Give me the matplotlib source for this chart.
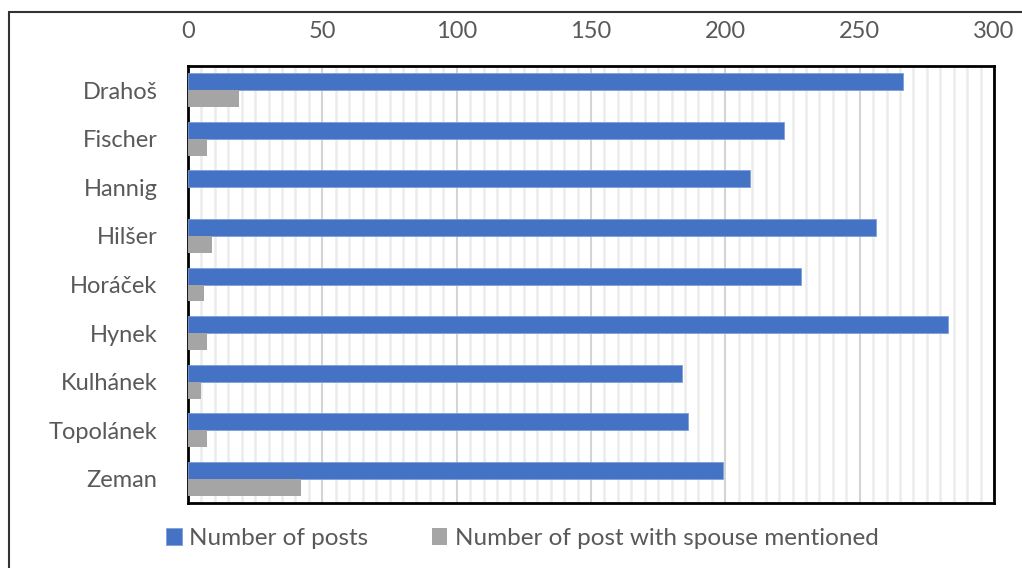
import matplotlib.pyplot as plt
import matplotlib
from matplotlib.patches import Rectangle
from matplotlib.ticker import MultipleLocator

matplotlib.rcParams['font.family'] = ['Lato', 'DejaVu Sans']

candidates = ["Drahoš", "Fischer", "Hannig", "Hilšer", "Horáček", "Hynek", "Kulhánek", "Topolánek", "Zeman"]
posts = [266, 222, 209, 256, 228, 283, 184, 186, 199]
spouse_posts = [19, 7, 0, 9, 6, 7, 5, 7, 42]
series_names = ["Number of posts", "Number of post with spouse mentioned"]
colors = ["#4472C4", "#A5A5A5"]

fig = plt.figure(figsize=(10.22, 5.68), dpi=100)
ax = fig.add_axes([188 / 1022, 1 - 503 / 568, (994 - 188) / 1022, (503 - 66) / 568])

h = 0.35
y = list(range(len(candidates)))
ax.barh([i - h / 2 for i in y], posts, height=h, color=colors[0], edgecolor="#7f9fd8", linewidth=0.6, label=series_names[0], zorder=3)
ax.barh([i + h / 2 for i in y], spouse_posts, height=h, color=colors[1], label=series_names[1], zorder=3)

ax.set_xlim(0, 300)
ax.set_ylim(len(candidates) - 0.5, -0.5)
ax.set_yticks(y)
ax.set_yticklabels(candidates)
ax.xaxis.set_major_locator(MultipleLocator(50))
ax.xaxis.set_minor_locator(MultipleLocator(5))
ax.xaxis.tick_top()
ax.tick_params(axis='x', which='both', length=0, pad=17, labelsize=17, labelcolor="#595959")
ax.tick_params(axis='y', length=0, pad=22, labelsize=17, labelcolor="#595959")

ax.grid(which='minor', axis='x', color="#ececec", linewidth=1.8, zorder=0)
ax.grid(which='major', axis='x', color="#d4d4d4", linewidth=1.5, zorder=1)
ax.set_axisbelow(True)
for s in ax.spines.values():
    s.set_linewidth(2)
    s.set_color("black")

fig.legend(loc='center', bbox_to_anchor=(0.511, 0.052), ncol=2, frameon=False,
           fontsize=17.5, handlelength=0.65, handleheight=0.65, handletextpad=0.3,
           columnspacing=2.6, labelcolor="#595959")

# outer chart frame (cropped at right and bottom)
fig.add_artist(Rectangle((9 / 1022, -0.2), 1.5, 1.2 - 12 / 568, transform=fig.transFigure,
                         fill=False, edgecolor="#333333", linewidth=1.5))

plt.savefig("out.png", dpi=100)
